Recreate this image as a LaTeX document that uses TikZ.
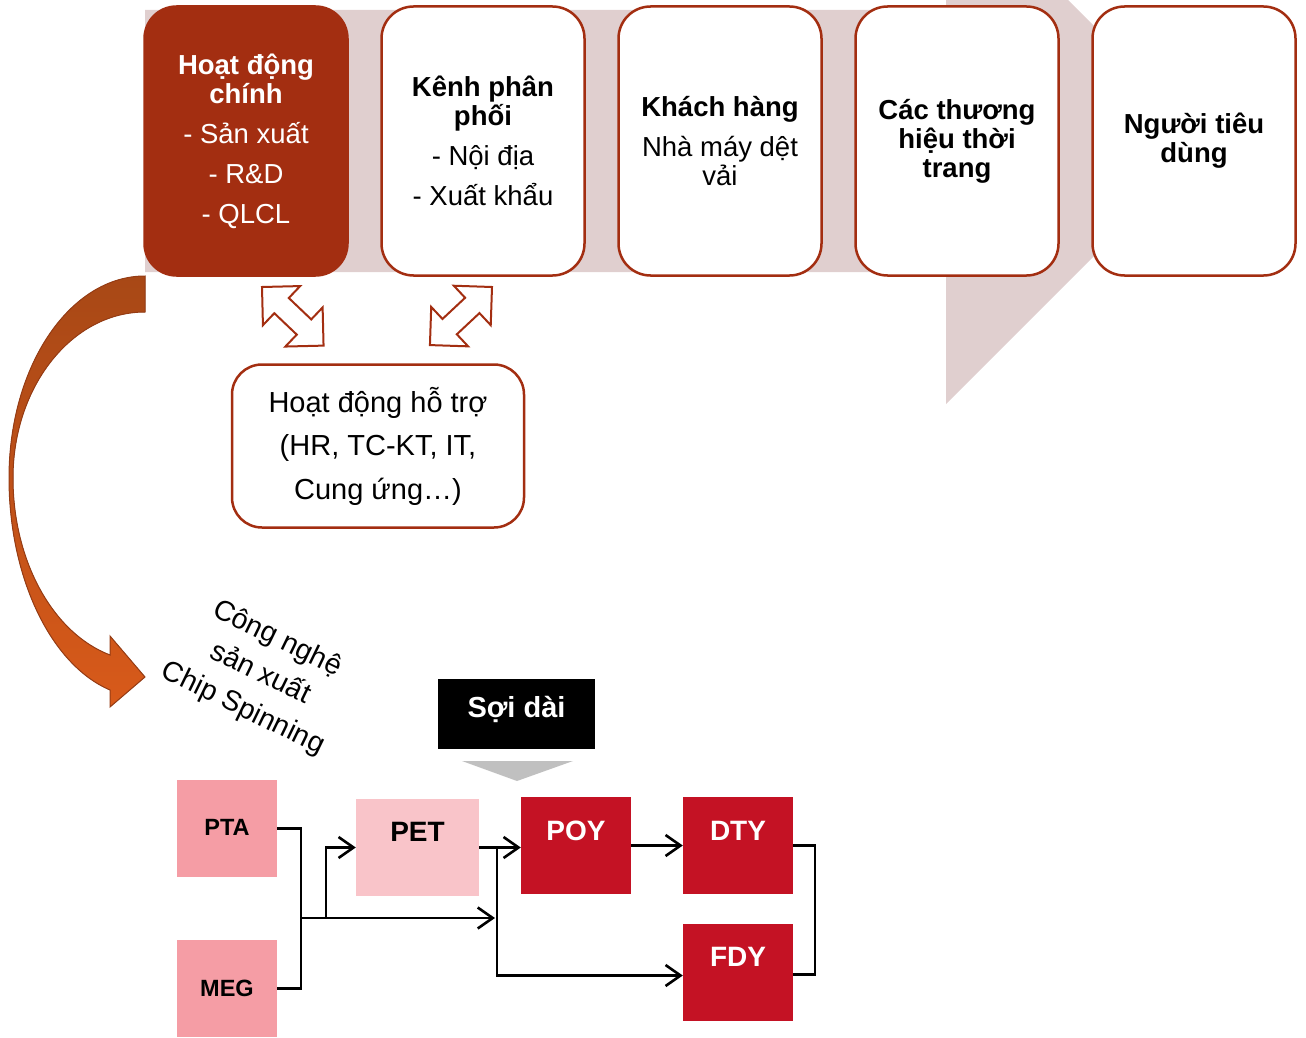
\documentclass[tikz,border=0pt]{standalone}
\usepackage{fontspec}
\setmainfont{Liberation Sans}
\usetikzlibrary{arrows.meta,calc}

\definecolor{brick}{RGB}{163,46,17}
\definecolor{paleband}{RGB}{224,207,207}
\definecolor{rawpink}{RGB}{245,157,165}
\definecolor{petpink}{RGB}{249,196,201}
\definecolor{yarnred}{RGB}{196,18,36}
\definecolor{pointer}{RGB}{192,192,192}
\definecolor{bendtop}{RGB}{168,72,22}
\definecolor{bendbot}{RGB}{216,90,26}
\definecolor{bendedge}{RGB}{150,60,20}

% hollow two-headed block arrow: #1 start tip, #2 direction angle
\newcommand{\twowayarrow}[2]{%
  \begin{scope}[shift={#1},rotate=#2]
    \filldraw[draw=brick,fill=white,line width=2pt,line join=miter]
      (0,0) -- (27,-27) -- (27,-10.5) -- (58,-10.5) -- (58,-27) -- (85,0)
      -- (58,27) -- (58,10.5) -- (27,10.5) -- (27,27) -- cycle;
  \end{scope}}

\begin{document}
\begin{tikzpicture}[x=1pt,y=-1pt,
  chainbox/.style={rectangle,rounded corners=32pt,draw=brick,line width=2.5pt,
    minimum width=203pt,minimum height=269pt,inner sep=0pt,align=center,
    font=\fontsize{27.5pt}{29pt}\selectfont},
  flowbox/.style={rectangle,inner sep=0pt,minimum height=97pt},
  flowtext/.style={font=\bfseries\fontsize{28pt}{30pt}\selectfont,inner sep=0pt},
  conn/.style={line width=2.6pt,draw=black,line join=miter},
  flowarrow/.style={conn,-{Straight Barb[length=15pt,width=21pt]}}]

\useasboundingbox (0,0) rectangle (1306,1038);

% value chain band behind the stages
\fill[paleband] (145,10) -- (946,10) -- (946,0) -- (1068,0) -- (1209,141)
  -- (946,404) -- (946,272) -- (145,272) -- cycle;

% stages of the chain
\node[chainbox,fill=brick,text=white] (core) at (246,141)
  {\textbf{Hoạt động}\\\textbf{chính}\\[11pt]- Sản xuất\\[11pt]- R\&D\\[11pt]- QLCL};
\node[chainbox,fill=white] (channel) at (483,141)
  {\textbf{Kênh phân}\\\textbf{phối}\\[11pt]- Nội địa\\[11pt]- Xuất khẩu};
\node[chainbox,fill=white] (client) at (720,141)
  {\textbf{Khách hàng}\\[11pt]Nhà máy dệt\\vải};
\node[chainbox,fill=white] (brands) at (957,141)
  {\textbf{Các thương}\\\textbf{hiệu thời}\\\textbf{trang}};
\node[chainbox,fill=white] (consumer) at (1194,141)
  {\textbf{Người tiêu}\\\textbf{dùng}};

% support activities
\node[rectangle,rounded corners=30pt,draw=brick,line width=2.5pt,fill=white,
  minimum width=292pt,minimum height=163pt,align=center,
  font=\fontsize{29pt}{43.5pt}\selectfont] (support) at (378,446)
  {Hoạt động hỗ trợ\\(HR, TC-KT, IT,\\Cung ứng…)};

% two-way links between the support box and the main stages
\twowayarrow{(262,287)}{-43.6}
\twowayarrow{(492,287)}{-136.9}

% bent arrow from the core activities down to the production technology
\filldraw[draw=bendedge,line width=1pt,top color=bendtop,bottom color=bendbot]
  (145,276) .. controls (70,276) and (9,366) .. (9,478)
  .. controls (9,577) and (50.5,664.5) .. (110,690)
  -- (110,707) -- (145,677) -- (110,636) -- (110,655)
  .. controls (52.7,633) and (13,560.8) .. (13,478)
  .. controls (13,386.4) and (72.1,312) .. (145,312) -- cycle;

\node[rotate=-26,align=center,font=\fontsize{28.5pt}{39pt}\selectfont,inner sep=0pt]
  (techlabel) at (260,674) {Công nghệ\\sản xuất\\Chip Spinning};

% filament yarn header
\node[flowbox,fill=black,minimum width=157pt,minimum height=70pt] (yarnhead) at (516.5,713.5) {};
\node[flowtext,font=\bfseries\fontsize{29pt}{30pt}\selectfont,text=white] (yarnheadtext) at (516.5,709) {Sợi dài};
\fill[pointer] (462,761) -- (573,761) -- (517,781) -- cycle;

% production flow boxes
\node[flowbox,fill=rawpink,minimum width=100pt] (pta) at (227,828.5) {};
\node[flowbox,fill=rawpink,minimum width=100pt] (meg) at (227,988.5) {};
\node[flowbox,fill=petpink,minimum width=123pt] (pet) at (417.5,847.5) {};
\node[flowbox,fill=yarnred,minimum width=110pt] (poy) at (576,845.5) {};
\node[flowbox,fill=yarnred,minimum width=110pt] (dty) at (738,845.5) {};
\node[flowbox,fill=yarnred,minimum width=110pt] (fdy) at (738,972.5) {};

\node[flowtext,font=\bfseries\fontsize{23.5pt}{25pt}\selectfont] (ptatext) at (227,827) {PTA};
\node[flowtext,font=\bfseries\fontsize{23.5pt}{25pt}\selectfont] (megtext) at (227,988) {MEG};
\node[flowtext] (pettext) at (417.5,832) {PET};
\node[flowtext,text=white] (poytext) at (576,831) {POY};
\node[flowtext,text=white] (dtytext) at (738,831) {DTY};
\node[flowtext,text=white] (fdytext) at (738,957) {FDY};

% connectors
\coordinate (mix) at (301,918);
\coordinate (split) at (326,918);
\coordinate (direct) at (495,918);
\coordinate (spin) at (497,847);
\coordinate (merge) at (815,910);

\draw[conn] (pta.east) -| (mix) |- (meg.east);
\draw[flowarrow] (mix) -- (direct);
\draw[flowarrow] (split) |- (pet.west);
\draw[flowarrow] (pet.east) -- (pet.east -| poy.west);
\draw[conn] (spin) |- ($(fdy.west)+(-12,3)$);
\draw[flowarrow] ($(spin |- fdy.west)+(0,3)$) -- ($(fdy.west)+(0,3)$);
\draw[flowarrow] (poy.east) -- (dty.west);
\draw[conn] (dty.east) -| (merge) |- ($(fdy.east)+(0,2)$);

\end{tikzpicture}
\end{document}
